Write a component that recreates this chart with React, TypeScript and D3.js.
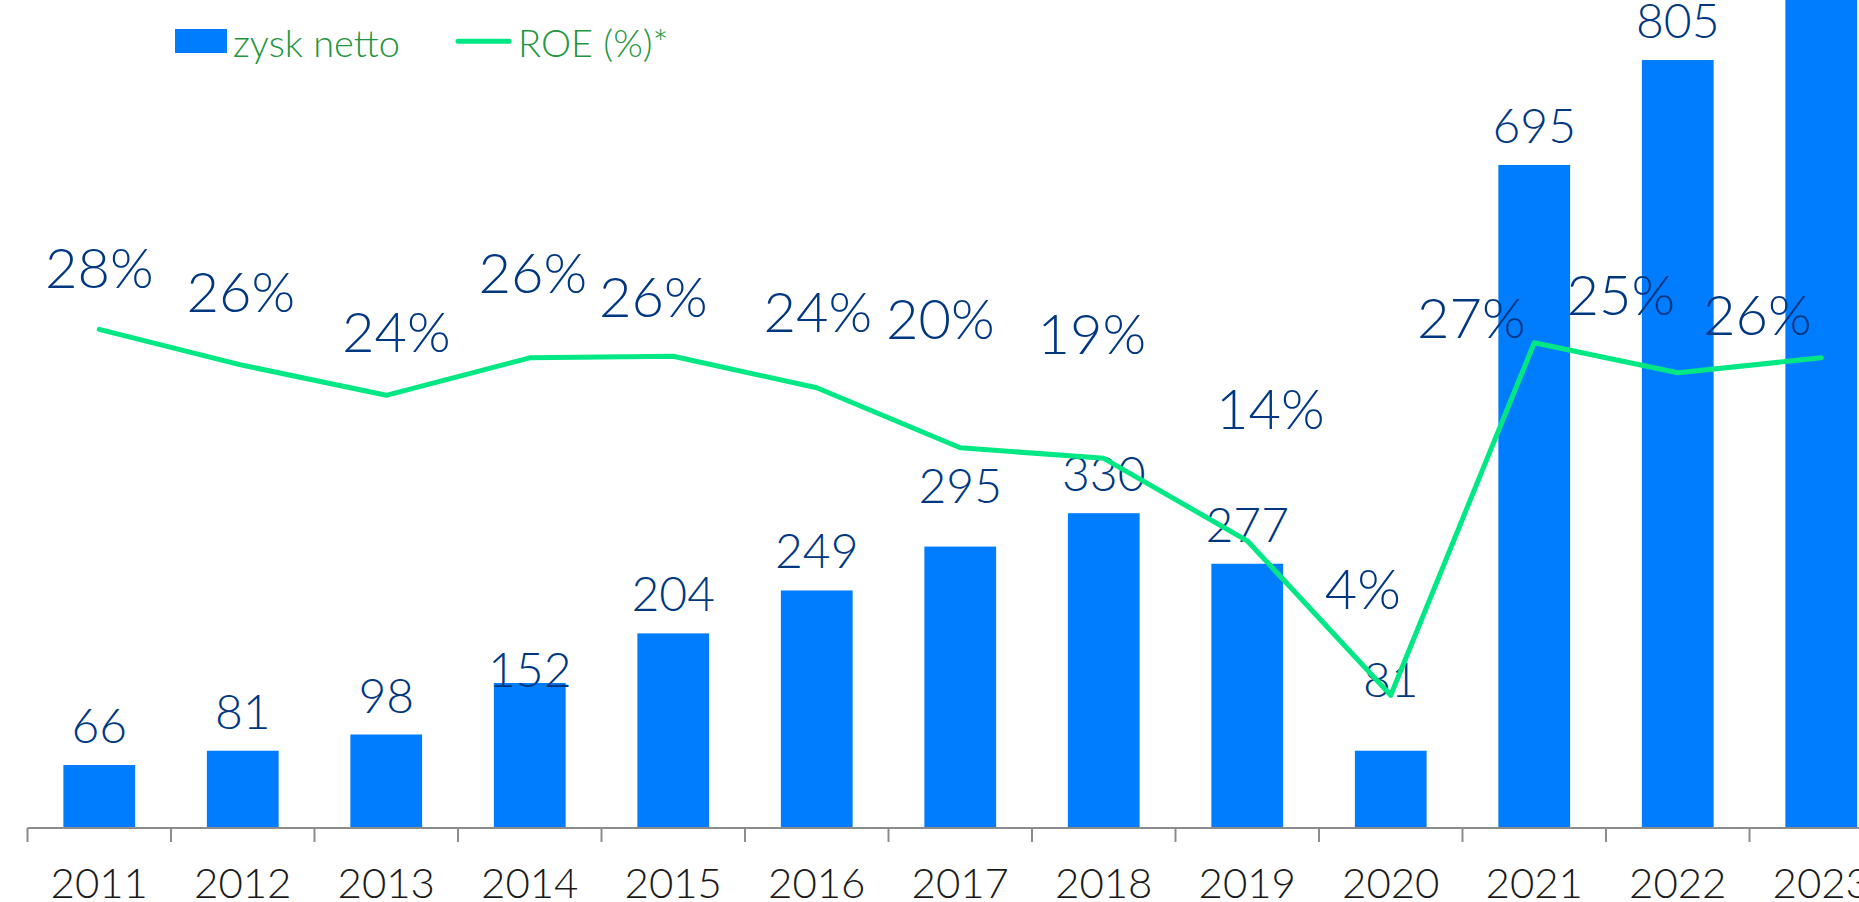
import { useEffect, useRef } from "react";
import * as d3 from "d3";

const years = ["2011", "2012", "2013", "2014", "2015", "2016", "2017", "2018", "2019", "2020", "2021", "2022", "2023"];
const netProfit = [66, 81, 98, 152, 204, 249, 295, 330, 277, 81, 695, 805, 900];
const roe = [28.0, 25.6, 23.6, 26.1, 26.2, 24.1, 20.1, 19.4, 13.9, 3.6, 27.1, 25.1, 26.1];

// hand placed labels (like in the source deck): [dx, dy] from the point
const roeLabelOffset = [
  [0, -41], [-2, -53], [10, -43], [3, -65], [-20, -39], [1, -56], [-20, -109],
  [-12, -104], [23, -112], [-28, -86], [-63, -5], [-57, -58], [-64, -23],
];
const barLabelDy = [-22, -22, -22, 4, -22, -22, -44, -22, -22, -54, -22, -22, -22];

const W = 1859, H = 902;
const BAR = "#007cff";
const LINE = "#00e884";
const NAVY = "#003781";
const LEGEND = "#1f9640";
const FONT = "Lato, 'Open Sans', sans-serif";

export default function App() {
  const svgRef = useRef<SVGSVGElement>(null);

  useEffect(() => {
    const svg = d3.select(svgRef.current);
    svg.selectAll("*").remove();

    const baseY = 828;
    const x = d3.scaleBand().domain(years).range([27.5, 27.5 + 143.5 * 13]).paddingInner(0.5).paddingOuter(0.25);
    const y = d3.scaleLinear().domain([0, 900]).range([baseY, baseY - 900 * 0.954]);
    const yR = d3.scaleLinear().domain([0, 30]).range([749.3, 299.3]);
    const cx = (d: string) => (x(d) ?? 0) + x.bandwidth() / 2;
    const step = x.step();

    // bars
    svg.append("g").selectAll("rect").data(years).join("rect")
      .attr("x", (d) => x(d) ?? 0)
      .attr("y", (_, i) => y(netProfit[i]))
      .attr("width", x.bandwidth())
      .attr("height", (_, i) => baseY - y(netProfit[i]))
      .attr("fill", BAR);

    // axis
    const ax = svg.append("g");
    const x0 = 27.5, x1 = 27.5 + step * years.length;
    ax.append("line").attr("x1", x0).attr("x2", x1).attr("y1", baseY).attr("y2", baseY)
      .attr("stroke", "#8c8c8c").attr("stroke-width", 2);
    ax.selectAll("line.tick").data(d3.range(years.length + 1)).join("line")
      .attr("class", "tick")
      .attr("x1", (i) => x0 + i * step).attr("x2", (i) => x0 + i * step)
      .attr("y1", baseY).attr("y2", baseY + 14)
      .attr("stroke", "#8c8c8c").attr("stroke-width", 2);
    ax.selectAll("text").data(years).join("text")
      .attr("x", (d) => cx(d))
      .attr("y", 898)
      .attr("text-anchor", "middle")
      .attr("font-family", FONT)
      .attr("font-weight", 300)
      .attr("font-size", 42)
      .attr("fill", "#1a1a1a")
      .text((d) => d);

    // bar labels
    svg.append("g").selectAll("text").data(years).join("text")
      .attr("x", (d) => cx(d))
      .attr("y", (_, i) => y(netProfit[i]) + barLabelDy[i])
      .attr("text-anchor", "middle")
      .attr("font-family", FONT)
      .attr("font-weight", 300)
      .attr("font-size", 48)
      .attr("fill", NAVY)
      .text((_, i) => netProfit[i]);

    // roe labels
    svg.append("g").selectAll("text").data(years).join("text")
      .attr("x", (d, i) => cx(d) + roeLabelOffset[i][0])
      .attr("y", (_, i) => yR(roe[i]) + roeLabelOffset[i][1])
      .attr("text-anchor", "middle")
      .attr("font-family", FONT)
      .attr("font-weight", 300)
      .attr("font-size", 56)
      .attr("fill", NAVY)
      .text((_, i) => `${Math.round(roe[i])}%`);

    // roe line
    const line = d3.line<string>().x((d) => cx(d)).y((_, i) => yR(roe[i]));
    svg.append("path")
      .datum(years)
      .attr("d", line)
      .attr("fill", "none")
      .attr("stroke", LINE)
      .attr("stroke-width", 5)
      .attr("stroke-linecap", "round")
      .attr("stroke-linejoin", "round");

    // legend
    const lg = svg.append("g").attr("font-family", FONT).attr("font-weight", 300).attr("font-size", 38).attr("fill", LEGEND);
    lg.append("rect").attr("x", 175).attr("y", 29).attr("width", 52).attr("height", 24).attr("fill", BAR);
    lg.append("text").attr("x", 233).attr("y", 56.7).text("zysk netto");
    lg.append("line").attr("x1", 458).attr("x2", 509).attr("y1", 41.3).attr("y2", 41.3)
      .attr("stroke", LINE).attr("stroke-width", 5).attr("stroke-linecap", "round");
    lg.append("text").attr("x", 518).attr("y", 56.7).text("ROE (%)*");
  }, []);

  return (
    <svg
      ref={svgRef}
      width={W}
      height={H}
      style={{ position: "absolute", left: 0, top: 0, background: "#fff" }}
    />
  );
}
